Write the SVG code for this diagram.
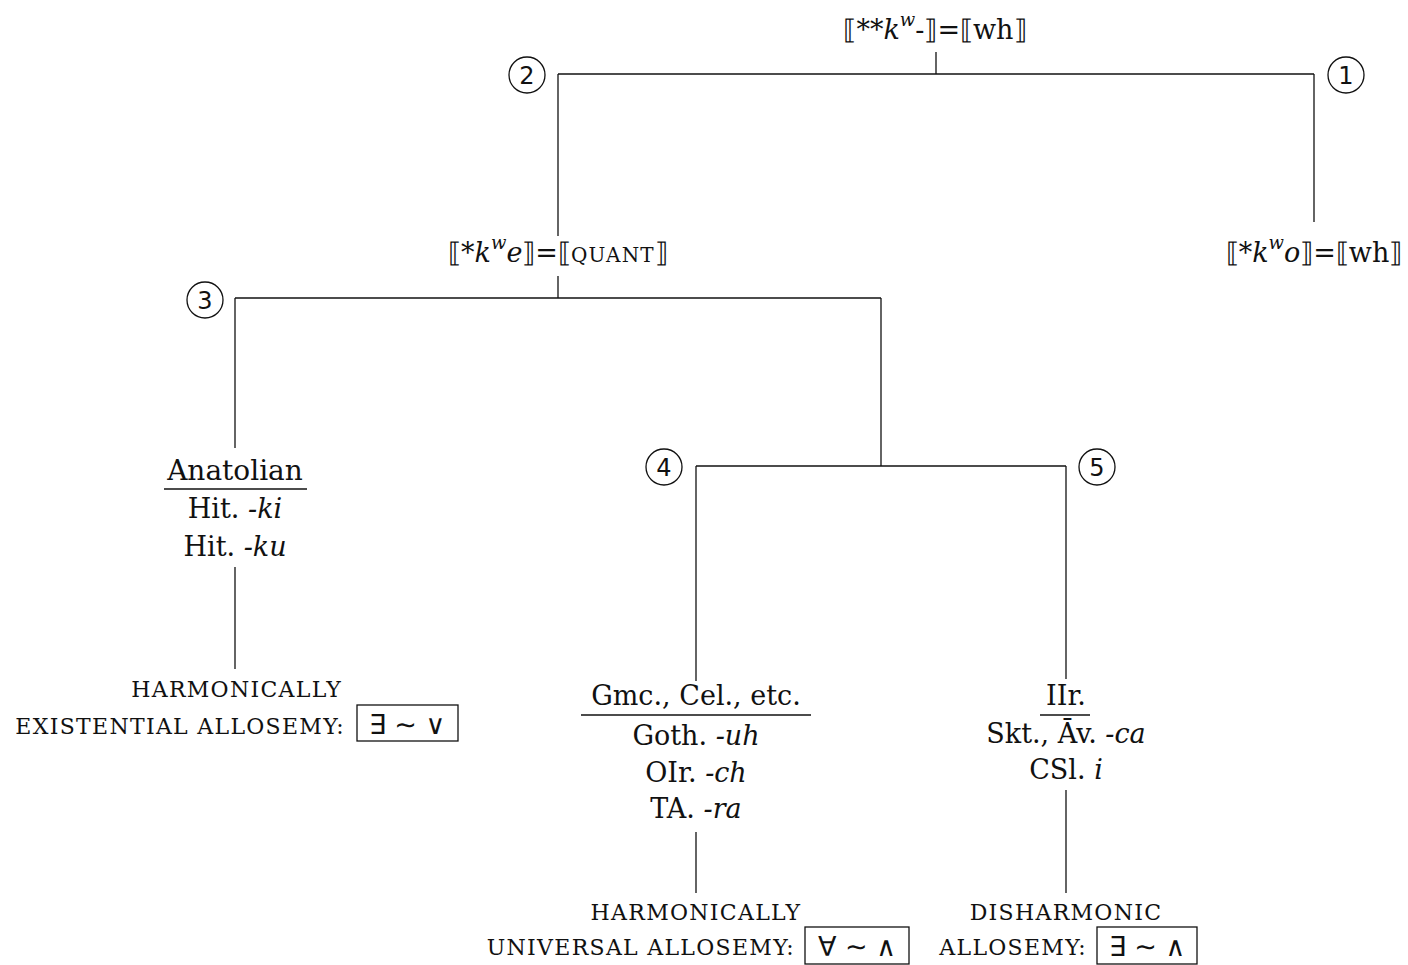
<svg xmlns="http://www.w3.org/2000/svg" width="1408" height="965" viewBox="0 0 1408 965">
<style>
text{font-family:"DejaVu Serif","Liberation Serif",serif;font-size:27px;fill:#111}
.it{font-style:italic}
.sup{font-size:18px;font-style:italic}
.sc{font-size:22px;letter-spacing:1.3px}
.q{font-size:20px;letter-spacing:1.2px}
.num{font-family:"DejaVu Sans","Liberation Sans",sans-serif;font-size:24px;text-anchor:middle}
.sym{font-family:"DejaVu Sans","Liberation Sans",sans-serif;font-size:27px}
.mid{text-anchor:middle}
.end{text-anchor:end}
line,rect,circle{stroke:#111;stroke-width:1.3;fill:none}
</style>
<g id="connectors">
<line x1="936" y1="52" x2="936" y2="74"/>
<line x1="558" y1="74" x2="1314" y2="74"/>
<line x1="558" y1="74" x2="558" y2="236"/>
<line x1="1314" y1="74" x2="1314" y2="222"/>
<line x1="558" y1="276" x2="558" y2="298"/>
<line x1="235" y1="298" x2="881" y2="298"/>
<line x1="235" y1="298" x2="235" y2="448"/>
<line x1="881" y1="298" x2="881" y2="466"/>
<line x1="696" y1="466" x2="1066" y2="466"/>
<line x1="696" y1="466" x2="696" y2="681"/>
<line x1="1066" y1="466" x2="1066" y2="679"/>
<line x1="235" y1="567" x2="235" y2="669"/>
<line x1="696" y1="832" x2="696" y2="893"/>
<line x1="1066" y1="790" x2="1066" y2="893"/>
</g>
<g id="c1"><circle cx="1346" cy="75" r="18"/><text class="num" x="1346" y="84">1</text></g>
<g id="c2"><circle cx="527" cy="75" r="18"/><text class="num" x="527" y="84">2</text></g>
<g id="c3"><circle cx="205" cy="300" r="18"/><text class="num" x="205" y="309">3</text></g>
<g id="c4"><circle cx="664" cy="467" r="18"/><text class="num" x="664" y="476">4</text></g>
<g id="c5"><circle cx="1097" cy="467" r="18"/><text class="num" x="1097" y="476">5</text></g>
<g id="root">
<text x="935" y="39" class="mid">⟦**<tspan class="it">k</tspan><tspan class="sup" dy="-13">w</tspan><tspan dy="13">-⟧=⟦wh⟧</tspan></text>
</g>
<g id="kwe">
<text x="558" y="262" class="mid">⟦*<tspan class="it">k</tspan><tspan class="sup" dy="-13">w</tspan><tspan class="it" dy="13">e</tspan>⟧=⟦<tspan class="q">QUANT</tspan>⟧</text>
</g>
<g id="kwo">
<text x="1314" y="262" class="mid">⟦*<tspan class="it">k</tspan><tspan class="sup" dy="-13">w</tspan><tspan class="it" dy="13">o</tspan>⟧=⟦wh⟧</text>
</g>
<g id="anatolian">
<text x="235" y="480" class="mid" style="font-size:28px">Anatolian</text>
<line x1="164" y1="489" x2="307" y2="489"/>
<text x="235" y="518" class="mid">Hit. <tspan class="it">-ki</tspan></text>
<text x="235" y="556" class="mid">Hit. <tspan class="it">-ku</tspan></text>
</g>
<g id="gmc">
<text x="696" y="705" class="mid">Gmc., Cel., etc.</text>
<line x1="581" y1="715" x2="811" y2="715"/>
<text x="696" y="745" class="mid">Goth. <tspan class="it">-uh</tspan></text>
<text x="696" y="782" class="mid">OIr. <tspan class="it">-ch</tspan></text>
<text x="696" y="818" class="mid">TA. <tspan class="it">-ra</tspan></text>
</g>
<g id="iir">
<text x="1066" y="705" class="mid">IIr.</text>
<line x1="1040" y1="715" x2="1090" y2="715"/>
<text x="1066" y="743" class="mid">Skt., Āv. <tspan class="it">-ca</tspan></text>
<text x="1066" y="779" class="mid">CSl. <tspan class="it">i</tspan></text>
</g>
<g id="existential">
<text x="342" y="697" class="end sc">HARMONICALLY</text>
<text x="345" y="734" class="end sc">EXISTENTIAL ALLOSEMY:</text>
<rect x="357" y="705" width="101" height="36"/>
<text x="407" y="734" class="mid sym">∃ ∼ ∨</text>
</g>
<g id="universal">
<text x="696" y="920" class="mid sc">HARMONICALLY</text>
<text x="795" y="955" class="end sc">UNIVERSAL ALLOSEMY:</text>
<rect x="805" y="927" width="104" height="37"/>
<text x="857" y="956" class="mid sym">∀ ∼ ∧</text>
</g>
<g id="disharmonic">
<text x="1066" y="920" class="mid sc">DISHARMONIC</text>
<text x="1087" y="955" class="end sc">ALLOSEMY:</text>
<rect x="1097" y="927" width="100" height="37"/>
<text x="1147" y="956" class="mid sym">∃ ∼ ∧</text>
</g>
</svg>
